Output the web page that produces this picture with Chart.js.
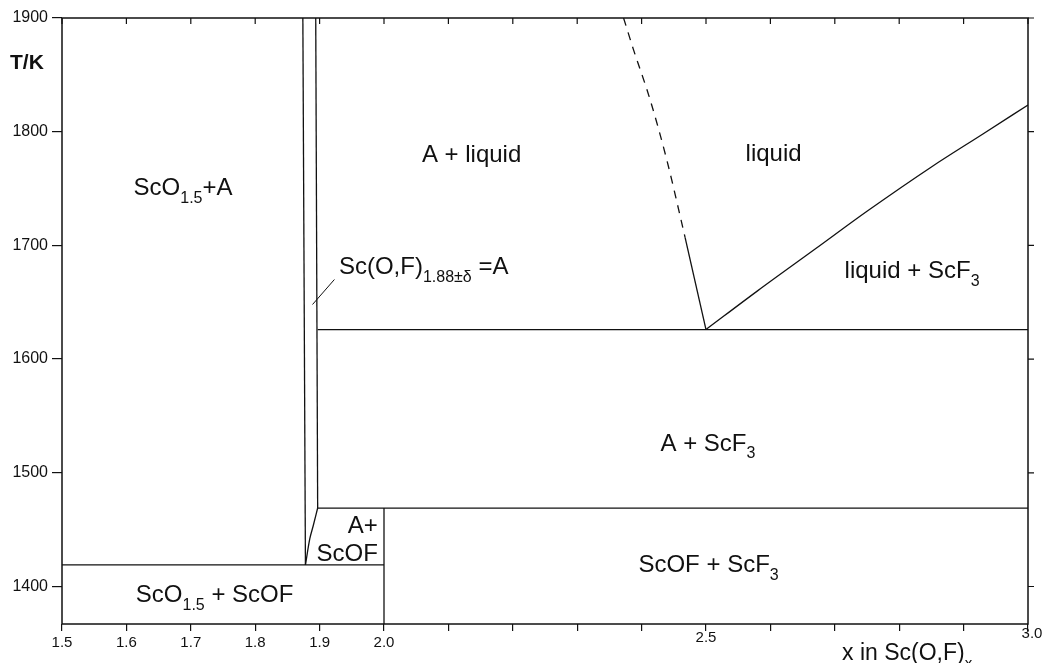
<!DOCTYPE html>
<html>
<head>
<meta charset="utf-8">
<script src="https://cdn.jsdelivr.net/npm/chart.js@4.4.1/dist/chart.umd.min.js"></script>
<style>
  html, body { margin: 0; padding: 0; background: #fff; }
  #wrap { width: 1042px; height: 663px; }
</style>
</head>
<body>
<div id="wrap"><canvas id="phaseChart" width="1042" height="663"></canvas></div>
<script>
// axis ticks
const xTickValues = [1.5, 1.6, 1.7, 1.8, 1.9, 2.0, 2.1, 2.2, 2.3, 2.4, 2.5, 2.6, 2.7, 2.8, 2.9, 3.0];
const xLabelValues = [1.5, 1.6, 1.7, 1.8, 1.9, 2.0, 2.5, 3.0];
const yTickValues = [1400, 1500, 1600, 1700, 1800, 1900];

// phase boundaries (x in Sc(O,F)x, T in K)
const lowerLineX = [1.5, 2.0];
const lowerLineT = [1419, 1419];
const scofLineX = [2.0, 2.0];
const scofLineT = [1367, 1469];
const peritecticX = [1.897, 3.0];
const peritecticT = [1469, 1469];
const phaseALeftX = [1.878, 1.874];
const phaseALeftT = [1419, 1900];
const phaseARightX = [1.897, 1.894];
const phaseARightT = [1469, 1900];
const solvusX = [1.878, 1.8848, 1.8899, 1.897];
const solvusT = [1419, 1442, 1453, 1469];
const eutecticX = [1.897, 3.0];
const eutecticT = [1626, 1626];
const liquidusSolidX = [2.4675, 2.5];
const liquidusSolidT = [1707, 1626];
const liquidusDashedX = [2.372, 2.3875, 2.4133, 2.4392, 2.4598, 2.4675];
const liquidusDashedT = [1900, 1872, 1828, 1775, 1726, 1707];
const liquidusScF3X = [2.5, 2.58, 2.67, 2.75, 2.85, 2.93, 3.0];
const liquidusScF3T = [1626, 1660, 1697, 1730, 1769, 1798, 1823.5];
const leaderX = [1.889, 1.923];
const leaderT = [1648, 1670];

// region names, [text, isSubscript]
const regionNames = [
    [['ScO'], ['1.5', true], ['+A']],
    [['A + liquid']],
    [['liquid']],
    [['Sc(O,F)'], ['1.88\u00b1\u03b4', true], [' =A']],
    [['liquid + ScF'], ['3', true]],
    [['A + ScF'], ['3', true]],
    [['A+']],
    [['ScOF']],
    [['ScO'], ['1.5', true], [' + ScOF']],
    [['ScOF + ScF'], ['3', true]]
];
const yTitle = 'T/K';
const xTitle = [['x in Sc(O,F)'], ['x', true]];

const FONT = '"Liberation Sans", Arial, Helvetica, sans-serif';
const INK = '#111';

// where each region name sits: data x, data T, alignment
const nameAnchors = [
    [1.688, 1752, 'center'],
    [2.136, 1781, 'center'],
    [2.605, 1782, 'center'],
    [1.930, 1682, 'left'],
    [2.820, 1679, 'center'],
    [2.503, 1527, 'center'],
    [1.9905, 1455, 'right'],
    [1.9905, 1430, 'right'],
    [1.737, 1394, 'center'],
    [2.504, 1420, 'center']
];

function boundary(xs, ts, extra) {
    return Object.assign({
        data: xs.map((x, i) => ({ x: x, y: ts[i] })),
        showLine: true,
        borderColor: INK,
        borderWidth: 1.3,
        pointRadius: 0,
        fill: false,
        tension: 0
    }, extra || {});
}

function drawRich(ctx, parts, x, y, align, size) {
    const subSize = Math.round(size * 0.65);
    let w = 0;
    parts.forEach(p => {
        ctx.font = (p[1] ? subSize : size) + 'px ' + FONT;
        w += ctx.measureText(p[0]).width;
    });
    let cx = align === 'center' ? x - w / 2 : (align === 'right' ? x - w : x);
    const base = y + size * 0.358;
    ctx.textAlign = 'left';
    ctx.textBaseline = 'alphabetic';
    parts.forEach(p => {
        ctx.font = (p[1] ? subSize : size) + 'px ' + FONT;
        ctx.fillText(p[0], cx, p[1] ? base + size * 0.32 : base);
        cx += ctx.measureText(p[0]).width;
    });
}

const framePlugin = {
    id: 'frame',
    afterDraw(chart) {
        const ctx = chart.ctx;
        const a = chart.chartArea;
        const xs = chart.scales.x;
        const ys = chart.scales.y;
        ctx.save();
        ctx.strokeStyle = INK;
        ctx.fillStyle = INK;

        // box
        ctx.lineWidth = 1.5;
        ctx.strokeRect(a.left, a.top, a.right - a.left, a.bottom - a.top);

        // top ticks (inward) and right ticks (outward)
        ctx.lineWidth = 1.2;
        ctx.beginPath();
        xTickValues.forEach(v => {
            const px = xs.getPixelForValue(v);
            ctx.moveTo(px, a.top);
            ctx.lineTo(px, a.top + 6);
        });
        yTickValues.forEach(v => {
            const py = ys.getPixelForValue(v);
            ctx.moveTo(a.right, py);
            ctx.lineTo(a.right + 6, py);
        });
        ctx.stroke();

        // x tick labels (the scanned original sets them at uneven heights)
        const labelDrop = { '2.5': 14, '3.0': 10 };
        ctx.font = '15px ' + FONT;
        ctx.textAlign = 'center';
        ctx.textBaseline = 'middle';
        xLabelValues.forEach(v => {
            const t = v.toFixed(1);
            const dx = t === '3.0' ? 4 : 0;
            ctx.fillText(t, xs.getPixelForValue(v) + dx, a.bottom + (labelDrop[t] || 19));
        });

        // region names
        regionNames.forEach((parts, i) => {
            const an = nameAnchors[i];
            drawRich(ctx, parts, xs.getPixelForValue(an[0]), ys.getPixelForValue(an[1]), an[2], 24);
        });

        // axis titles
        ctx.font = 'bold 21px ' + FONT;
        ctx.textAlign = 'left';
        ctx.textBaseline = 'middle';
        ctx.fillText(yTitle, 10, 63);
        drawRich(ctx, xTitle, 842, 652, 'left', 23);
        ctx.restore();
    }
};

new Chart(document.getElementById('phaseChart'), {
    type: 'scatter',
    data: {
        datasets: [
            boundary(lowerLineX, lowerLineT),
            boundary(scofLineX, scofLineT),
            boundary(peritecticX, peritecticT),
            boundary(phaseALeftX, phaseALeftT),
            boundary(phaseARightX, phaseARightT),
            boundary(solvusX, solvusT, { cubicInterpolationMode: 'monotone' }),
            boundary(eutecticX, eutecticT),
            boundary(liquidusSolidX, liquidusSolidT),
            boundary(liquidusDashedX, liquidusDashedT, { borderDash: [8, 7], cubicInterpolationMode: 'monotone' }),
            boundary(liquidusScF3X, liquidusScF3T, { cubicInterpolationMode: 'monotone' }),
            boundary(leaderX, leaderT, { borderWidth: 1 })
        ]
    },
    options: {
        responsive: false,
        animation: false,
        events: [],
        layout: { padding: { top: 18, right: 14, left: 0, bottom: 0 } },
        plugins: { legend: { display: false }, tooltip: { enabled: false } },
        scales: {
            x: {
                type: 'linear',
                position: 'bottom',
                min: 1.5,
                max: 3.0,
                afterBuildTicks: s => { s.ticks = xTickValues.map(v => ({ value: v })); },
                afterFit: s => { s.height = 39; },
                ticks: { display: false },
                grid: { drawOnChartArea: false, drawTicks: true, tickLength: 7, color: INK, lineWidth: 1.2 },
                border: { display: false }
            },
            y: {
                type: 'linear',
                min: 1367,
                max: 1900,
                afterBuildTicks: s => { s.ticks = yTickValues.map(v => ({ value: v })); },
                afterFit: s => { s.width = 62; },
                ticks: { color: INK, font: { family: FONT, size: 16 }, padding: 4, callback: v => String(v) },
                grid: { drawOnChartArea: false, drawTicks: true, tickLength: 10, color: INK, lineWidth: 1.2 },
                border: { display: false }
            }
        }
    },
    plugins: [framePlugin]
});
</script>
</body>
</html>
